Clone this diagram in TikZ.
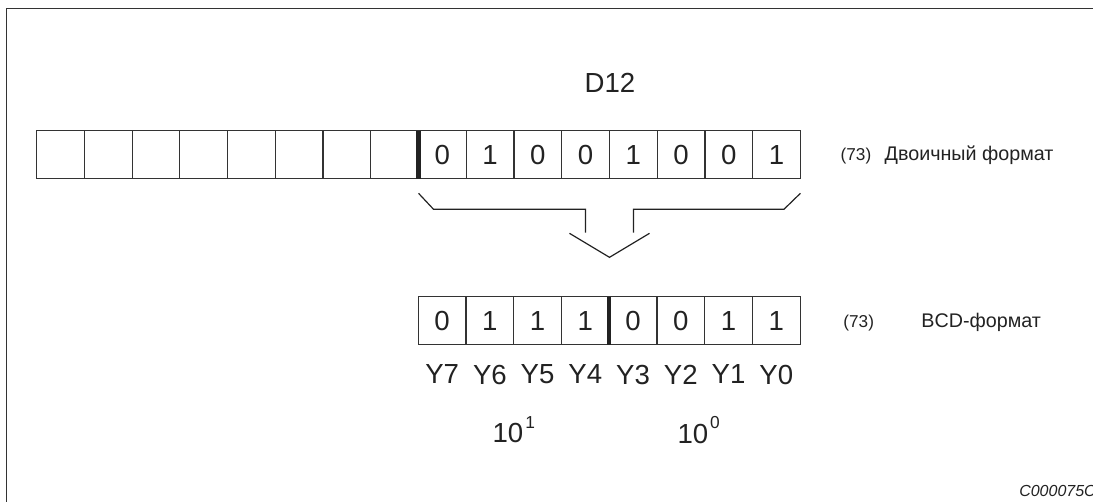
\documentclass[tikz,border=0pt]{standalone}
\usepackage{fontspec}
\setmainfont{Liberation Sans}
\usepackage{tikz}
\usetikzlibrary{positioning,calc}
\definecolor{ink}    {HTML}{222222}
\definecolor{softink}{HTML}{333333}
\newcommand{\expo}[1]{\kern1.5pt\raisebox{10.7pt}{\fontsize{13}{13}\selectfont #1}}
\tikzset{
  every node/.style={text=ink},
  % --- nodes
  cell/.style  = {draw=softink, line width=0.9pt, minimum width=35.8pt, minimum height=36pt,
                  inner sep=0pt, outer sep=0pt, font=\fontsize{20.7}{23}\selectfont},
  big/.style   = {inner sep=0pt, font=\fontsize{20.7}{23}\selectfont},
  tag/.style   = {inner sep=0pt, anchor=base west, font=\fontsize{12.9}{15}\selectfont},
  fmt/.style   = {inner sep=0pt, anchor=base west, font=\fontsize{14.8}{17}\selectfont},
  code/.style  = {inner sep=0pt, anchor=base west, font=\fontsize{12}{14}\selectfont\itshape},
  % --- lines
  frame/.style = {draw=softink, line width=1pt},
  bar/.style   = {draw=ink, line width=3.4pt},
  brace/.style = {draw=ink, line width=0.9pt, line join=miter},
}

\begin{document}
\begin{tikzpicture}[x=0.75pt,y=-0.75pt]
  \useasboundingbox (0,0) rectangle (1093,501);
  \clip (0,0) rectangle (1093,501);
  \draw[frame] (6.7,520) -- (6.7,8.3) -- (1110,8.3);

  \node[big, anchor=base] (reg) at (610,92.8) {D12};

  % --- binary register D12
  \node[cell] (bin1) at (60.55,154.7) {};
  \node[cell, right=0pt of bin1] (bin2) {};
  \node[cell, right=0pt of bin2] (bin3) {};
  \node[cell, right=0pt of bin3] (bin4) {};
  \node[cell, right=0pt of bin4] (bin5) {};
  \node[cell, right=0pt of bin5] (bin6) {};
  \node[cell, right=0pt of bin6] (bin7) {};
  \node[cell, right=0pt of bin7] (bin8) {};
  \node[cell, right=0pt of bin8] (bin9) {0};
  \node[cell, right=0pt of bin9] (bin10) {1};
  \node[cell, right=0pt of bin10] (bin11) {0};
  \node[cell, right=0pt of bin11] (bin12) {0};
  \node[cell, right=0pt of bin12] (bin13) {1};
  \node[cell, right=0pt of bin13] (bin14) {0};
  \node[cell, right=0pt of bin14] (bin15) {0};
  \node[cell, right=0pt of bin15] (bin16) {1};
  \draw[bar] (bin8.north east) -- (bin8.south east);

  \node[tag] (bintag) at ($(bin16.east)+(40,6)$) {(73)};
  \node[fmt] (binfmt) at ($(bintag.base west)+(44,0)$) {Двоичный формат};

  % --- bracket and chevron
  \coordinate (mid) at (bin12.south east);
  \draw[brace] ($(bin9.south west)+(0,14.6)$) -- ++(15,16) -| ($(mid)+(-24,54)$);
  \draw[brace] ($(bin16.south east)+(0,14.6)$) -- ++(-16.5,16) -| ($(mid)+(24,54)$);
  \draw[brace] ($(mid)+(-40,54.6)$) -- ($(mid)+(0,78.6)$) -- ($(mid)+(40,54.6)$);

  % --- BCD register
  \node[cell] (bcd7) at (442.15,320.5) {0};
  \node[cell, right=0pt of bcd7] (bcd6) {1};
  \node[cell, right=0pt of bcd6] (bcd5) {1};
  \node[cell, right=0pt of bcd5] (bcd4) {1};
  \node[cell, right=0pt of bcd4] (bcd3) {0};
  \node[cell, right=0pt of bcd3] (bcd2) {0};
  \node[cell, right=0pt of bcd2] (bcd1) {1};
  \node[cell, right=0pt of bcd1] (bcd0) {1};
  \draw[bar] (bcd4.north east) -- (bcd4.south east);

  \node[tag] (bcdtag) at ($(bcd0.east)+(43,6.5)$) {(73)};
  \node[fmt] (bcdfmt) at ($(bcdtag.base west)+(78,0)$) {BCD-формат};

  \node[big, below=15pt of bcd7] (y7) {Y7};
  \node[big, below=15pt of bcd6] (y6) {Y6};
  \node[big, below=15pt of bcd5] (y5) {Y5};
  \node[big, below=15pt of bcd4] (y4) {Y4};
  \node[big, below=15pt of bcd3] (y3) {Y3};
  \node[big, below=15pt of bcd2] (y2) {Y2};
  \node[big, below=15pt of bcd1] (y1) {Y1};
  \node[big, below=15pt of bcd0] (y0) {Y0};

  \node[big, anchor=base] (ten1) at ($(y7.base)!0.5!(y4.base)+(0,59.2)$) {10\expo{1}};
  \node[big, anchor=base] (ten0) at ($(y3.base)!0.5!(y0.base)+(-6,59.2)$) {10\expo{0}};

  \node[code] (fig) at (1019,496) {C000075C};
\end{tikzpicture}
\end{document}
